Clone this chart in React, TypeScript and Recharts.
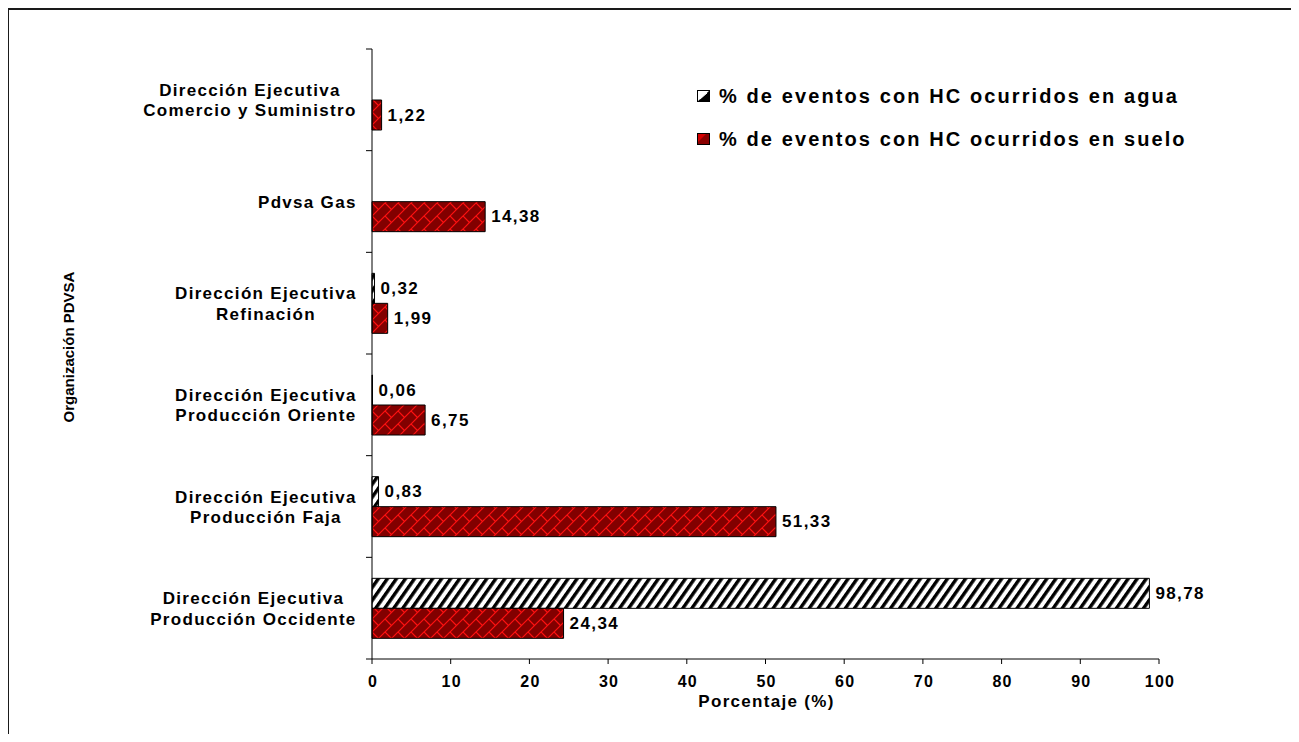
import React from 'react';
import { BarChart, Bar, XAxis, YAxis, LabelList, Legend } from 'recharts';

const categories: string[][] = [
  ['Dirección Ejecutiva', 'Comercio y Suministro'],
  ['Pdvsa Gas'],
  ['Dirección Ejecutiva', 'Refinación'],
  ['Dirección Ejecutiva', 'Producción Oriente'],
  ['Dirección Ejecutiva', 'Producción Faja'],
  ['Dirección Ejecutiva', 'Producción Occidente'],
];
const aguaValues: (number | null)[] = [null, null, 0.32, 0.06, 0.83, 98.78];
const sueloValues: number[] = [1.22, 14.38, 1.99, 6.75, 51.33, 24.34];
const xTicks: number[] = [0, 10, 20, 30, 40, 50, 60, 70, 80, 90, 100];
const seriesNames = {
  agua: '% de eventos con HC ocurridos en agua',
  suelo: '% de eventos con HC ocurridos en suelo',
};
const xTitle = 'Porcentaje (%)';
const yTitle = 'Organización PDVSA';

const data = categories.map((lines, i) => ({
  name: lines.join('|'),
  agua: aguaValues[i],
  suelo: sueloValues[i],
}));

const FONT = '"Liberation Sans", Arial, Helvetica, sans-serif';
const W = 1283;
const H = 726;
const MARGIN = { top: 41, right: 132, bottom: 0, left: 0 };
const Y_AXIS_W = 364;
const X_AXIS_H = 75;
const bandSize = (H - MARGIN.top - MARGIN.bottom - X_AXIS_H) / data.length;

let ctx: CanvasRenderingContext2D | null = null;
function measure(s: string, size: number, ls: number): number {
  if (!ctx) {
    const c = document.createElement('canvas');
    ctx = c.getContext('2d');
  }
  if (!ctx) return s.length * size * 0.6;
  ctx.font = `bold ${size}px ${FONT}`;
  return ctx.measureText(s).width + ls * s.length;
}

const fmt = (v: any) => (v === null || v === undefined ? '' : Number(v).toFixed(2).replace('.', ','));

const YTick = (props: any) => {
  const { x, y, payload, index } = props;
  const lines: string[] = String(payload.value).split('|');
  const size = 17;
  const ls = 1.3;
  const axisX = x + 8;
  const right = axisX - 16;
  const widths = lines.map((l) => measure(l, size, ls));
  const bw = Math.max(...widths);
  const cx = right - bw / 2;
  const baselines = lines.length === 1 ? [y + 6] : [y - 4, y + 16.5];
  return (
    <g>
      <line x1={axisX - 6} x2={axisX} y1={y - bandSize / 2} y2={y - bandSize / 2} stroke="#000" />
      {index === data.length - 1 && (
        <line x1={axisX - 6} x2={axisX} y1={y + bandSize / 2} y2={y + bandSize / 2} stroke="#000" />
      )}
      {lines.map((l, i) => (
        <text
          key={i}
          x={cx + ls / 2}
          y={baselines[i]}
          textAnchor="middle"
          fontFamily={FONT}
          fontWeight="bold"
          fontSize={size}
          letterSpacing={ls}
          fill="#000"
        >
          {l}
        </text>
      ))}
    </g>
  );
};

const XTick = (props: any) => {
  const { x, y, payload } = props;
  return (
    <text
      x={x + 1}
      y={y}
      dy={21}
      textAnchor="middle"
      fontFamily={FONT}
      fontWeight="bold"
      fontSize={16}
      letterSpacing={1.2}
      fill="#000"
    >
      {payload.value}
    </text>
  );
};

const ValueLabel = (props: any) => {
  const { x, y, width, height, value } = props;
  if (value === null || value === undefined) return null;
  return (
    <text
      x={x + width + 6}
      y={y + height / 2}
      dominantBaseline="central"
      fontFamily={FONT}
      fontWeight="bold"
      fontSize={17}
      letterSpacing={1.4}
      fill="#000"
    >
      {fmt(value)}
    </text>
  );
};

const LegendIcon = ({ kind }: { kind: 'agua' | 'suelo' }) => (
  <svg width={13} height={12} style={{ display: 'block' }}>
    {kind === 'agua' ? (
      <>
        <rect x={0.5} y={0.5} width={12} height={11} fill="#fff" stroke="#000" />
        <path d="M12.5,0.5 L12.5,11.5 L0.5,11.5 Z" fill="#000" />
        <path d="M3,9 L10,3" stroke="#fff" strokeWidth={1} />
      </>
    ) : (
      <>
        <rect x={0.5} y={0.5} width={12} height={11} fill="#8a0000" stroke="#000" />
        <path d="M1,1 L9,1 L1,9 Z" fill="#d40000" />
      </>
    )}
  </svg>
);

const renderLegend = () => (
  <div style={{ fontFamily: FONT }}>
    {(['agua', 'suelo'] as const).map((k, i) => (
      <div
        key={k}
        style={{
          display: 'flex',
          alignItems: 'center',
          height: 22,
          marginTop: i === 0 ? 0 : 21,
          whiteSpace: 'nowrap',
        }}
      >
        <LegendIcon kind={k} />
        <span
          style={{
            marginLeft: 9,
            fontSize: 20,
            fontWeight: 'bold',
            letterSpacing: 2.1,
            color: '#000',
            lineHeight: '22px',
          }}
        >
          {seriesNames[k]}
        </span>
      </div>
    ))}
  </div>
);

export default function App() {
  return (
    <div style={{ position: 'relative', width: W, height: H, overflow: 'hidden', background: '#fff' }}>
      <div
        style={{
          position: 'absolute',
          left: 0,
          top: 0,
          width: W + 50,
          height: H + 50,
          borderTop: '2px solid #1a1a1a',
          borderLeft: '1px solid #1a1a1a',
        }}
      />
      <div style={{ position: 'absolute', left: 0, top: 0 }}>
        <BarChart
          width={W}
          height={H}
          data={data}
          layout="vertical"
          margin={MARGIN}
          barSize={30}
          barGap={0}
        >
          <defs>
            <pattern
              id="aguaPat"
              patternUnits="userSpaceOnUse"
              width="7.4"
              height="20"
              patternTransform="rotate(35)"
            >
              <rect width="7.4" height="20" fill="#fff" />
              <rect x="0" width="3.4" height="20" fill="#000" />
            </pattern>
            <pattern id="sueloPat" patternUnits="userSpaceOnUse" width="13" height="13">
              <rect width="13" height="13" fill="#820000" />
              <path d="M0,13 L13,0 M-3,3 L3,-3 M10,16 L16,10" stroke="#ff1010" strokeWidth="1.2" />
              <path d="M0,0 L6.5,6.5" stroke="#ff1010" strokeWidth="1.2" />
            </pattern>
          </defs>
          <XAxis
            type="number"
            domain={[0, 100]}
            ticks={xTicks}
            interval={0}
            height={X_AXIS_H}
            axisLine={{ stroke: '#000' }}
            tickLine={{ stroke: '#000' }}
            tickSize={5}
            tick={<XTick />}
            label={{
              content: (p: any) => {
                const vb = p.viewBox;
                return (
                  <text
                    x={vb.x + vb.width / 2 + 1}
                    y={vb.y + 48}
                    textAnchor="middle"
                    fontFamily={FONT}
                    fontWeight="bold"
                    fontSize={17}
                    letterSpacing={1.3}
                    fill="#000"
                  >
                    {xTitle}
                  </text>
                );
              },
            }}
          />
          <YAxis
            type="category"
            dataKey="name"
            width={Y_AXIS_W}
            axisLine={{ stroke: '#000' }}
            tickLine={false}
            tickSize={6}
            tickMargin={2}
            interval={0}
            tick={<YTick />}
            label={{
              content: () => (
                <text
                  x={60}
                  y={339}
                  transform="rotate(-90 60 339)"
                  textAnchor="middle"
                  dominantBaseline="central"
                  fontFamily={FONT}
                  fontWeight="bold"
                  fontSize={15}
                  fill="#000"
                >
                  {yTitle}
                </text>
              ),
            }}
          />
          <Legend
            layout="vertical"
            align="center"
            verticalAlign="middle"
            content={renderLegend}
            wrapperStyle={{ position: 'absolute', left: 689, top: 77, width: 'auto' }}
          />
          <Bar
            dataKey="agua"
            name={seriesNames.agua}
            fill="url(#aguaPat)"
            stroke="#000"
            strokeWidth={1}
            isAnimationActive={false}
          >
            <LabelList dataKey="agua" content={<ValueLabel />} />
          </Bar>
          <Bar
            dataKey="suelo"
            name={seriesNames.suelo}
            fill="url(#sueloPat)"
            stroke="#000"
            strokeWidth={1}
            isAnimationActive={false}
          >
            <LabelList dataKey="suelo" content={<ValueLabel />} />
          </Bar>
        </BarChart>
      </div>
    </div>
  );
}
